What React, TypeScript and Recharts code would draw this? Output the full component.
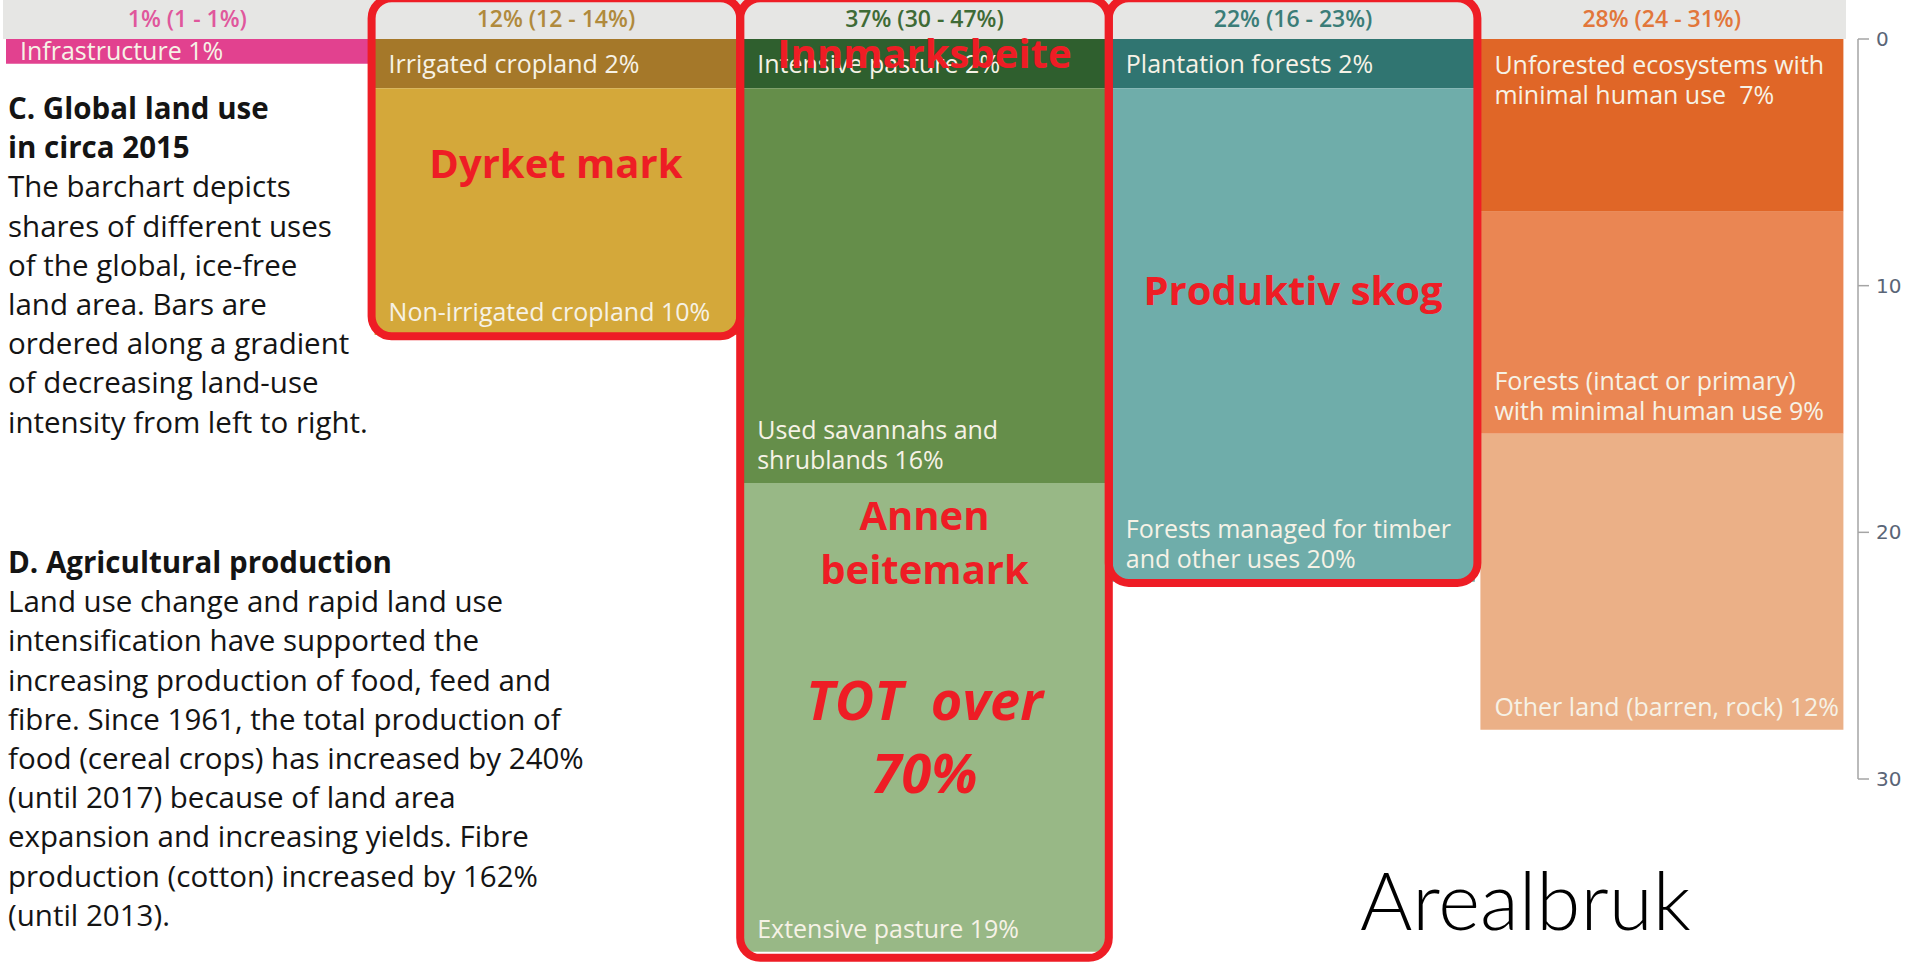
import React from 'react';
import { BarChart, Bar, XAxis, YAxis, Cell, LabelList, ReferenceArea, ReferenceDot } from 'recharts';

const categories = ['Infrastructure', 'Cropland', 'Pasture', 'Forestry', 'Unused'];
const headerLabels = ['1% (1 - 1%)', '12% (12 - 14%)', '37% (30 - 47%)', '22% (16 - 23%)', '28% (24 - 31%)'];
const headerColors = ['#e0579c', '#b08a3c', '#3f6b36', '#3b7d78', '#e2763a'];

// segments per column, from the top down
const level1Values = [1, 2, 2, 2, 7];
const level1Labels = ['Infrastructure 1%', 'Irrigated cropland 2%', 'Intensive pasture 2%', 'Plantation forests 2%', 'Unforested ecosystems with\nminimal human use  7%'];
const level1Place = ['center', 'center', 'center', 'center', 'top'];
const level1Colors = ['#e2418f', '#a57829', '#2f5f2e', '#307571', '#e06627'];

const level2Values = [null, 10, 16, 20, 9];
const level2Labels = ['', 'Non-irrigated cropland 10%', 'Used savannahs and\nshrublands 16%', 'Forests managed for timber\nand other uses 20%', 'Forests (intact or primary)\nwith minimal human use 9%'];
const level2Place = ['bottom', 'bottom', 'bottom', 'bottom', 'bottom'];
const level2Colors = ['#ffffff', '#d4a83a', '#658e4a', '#6fadaa', '#ea8653'];

const level3Values = [null, null, 19, null, 12];
const level3Labels = ['', '', 'Extensive pasture 19%', '', 'Other land (barren, rock) 12%'];
const level3Place = ['bottom', 'bottom', 'bottom', 'bottom', 'bottom'];
const level3Colors = ['#ffffff', '#ffffff', '#98b886', '#ffffff', '#ebb087'];

const yTicks = [0, 10, 20, 30];

// red hand-drawn annotations
const boxCategories = ['Cropland', 'Pasture', 'Forestry'];
const boxBottoms = [12.05, 37.25, 22.05];
const noteCategories = ['Cropland', 'Pasture', 'Forestry', 'Pasture', 'Pasture'];
const noteY = [5.05, 0.6, 10.2, 20.4, 28.3];
const noteTexts = ['Dyrket mark', 'Innmarksbeite', 'Produktiv skog', 'Annen\nbeitemark', 'TOT  over\n70%'];
const noteSizes = [40, 40, 40, 40, 54];
const noteItalic = [false, false, false, false, true];

const W = 1914;
const H = 965;
const MARGIN = { top: 2, right: 0, bottom: 1, left: 3 };
const X_AXIS_H = 37;
const Y_AXIS_W = 68;
const Y_MAX = 37.5;
const PLOT_H = H - MARGIN.top - MARGIN.bottom - X_AXIS_H;
const PX_PER_UNIT = PLOT_H / Y_MAX;

const data = categories.map((name, i) => ({
  name,
  l1: level1Values[i],
  l2: level2Values[i],
  l3: level3Values[i],
  t1: level1Labels[i],
  t2: level2Labels[i],
  t3: level3Labels[i],
}));

const FONT = '"Open Sans", sans-serif';
const RED = '#ee1d25';

const makeSegmentLabel = (labels: string[], place: string[]) => (props: any) => {
  const vb = props.viewBox || props;
  const { x, y, width, height } = vb;
  const text = props.value;
  const index = labels.indexOf(text);
  if (!text || index < 0 || width == null) return null;
  const top = Math.min(y, y + height);
  const bottom = Math.max(y, y + height);
  const lines = String(text).split('\n');
  const lh = 30;
  let first;
  if (place[index] === 'top') first = top + 26;
  else if (place[index] === 'center') first = (top + bottom) / 2 - ((lines.length - 1) * lh) / 2;
  else first = bottom - 23 - (lines.length - 1) * lh;
  const fs = 25;
  return (
    <text fontFamily={FONT} fontSize={fs} fill="#f6f2e6" style={{ whiteSpace: 'pre' }}>
      {lines.map((l, i) => (
        <tspan key={i} x={x + 14} y={first + i * lh + fs * 0.36}>
          {l}
        </tspan>
      ))}
    </text>
  );
};

const HeaderTick = (props: any) => {
  const { x, y, payload } = props;
  const i = categories.indexOf(payload.value);
  return (
    <text x={x} y={y - 21} textAnchor="middle" dominantBaseline="central" fontFamily={FONT} fontWeight={600} fontSize={23} fill={headerColors[i]}>
      {headerLabels[i]}
    </text>
  );
};

const AxisTick = (props: any) => {
  const { x, y, payload } = props;
  const ax = x + 12;
  const isFirst = payload.value === yTicks[0];
  const span = (yTicks[yTicks.length - 1] - yTicks[0]) * PX_PER_UNIT;
  return (
    <g>
      {isFirst && <line x1={ax} y1={y} x2={ax} y2={y + span} stroke="#a5a5a5" strokeWidth={1.5} />}
      <line x1={ax} y1={y} x2={ax + 11} y2={y} stroke="#a5a5a5" strokeWidth={1.5} />
      <text x={ax + 18} y={y} dominantBaseline="central" fontFamily='"DejaVu Sans", sans-serif' fontSize={20} fill="#5a6577">
        {payload.value}
      </text>
    </g>
  );
};

const RedBox = (props: any) => {
  const { x, y, width, height } = props;
  return <rect x={x} y={y} width={width} height={height} rx={20} ry={20} fill="none" stroke={RED} strokeWidth={8} />;
};

const makeNote = (i: number) => (props: any) => {
  const { cx, cy } = props;
  const lines = noteTexts[i].split('\n');
  const fs = noteSizes[i];
  const lh = fs * 1.35;
  const first = cy - ((lines.length - 1) * lh) / 2;
  return (
    <text
      fontFamily={FONT}
      fontWeight={700}
      fontStyle={noteItalic[i] ? 'italic' : 'normal'}
      fontSize={fs}
      fill={RED}
      textAnchor="middle"
      style={{ whiteSpace: 'pre' }}
    >
      {lines.map((l, k) => (
        <tspan key={k} x={cx} y={first + k * lh + fs * 0.36}>
          {l}
        </tspan>
      ))}
    </text>
  );
};

const bodyText: React.CSSProperties = {
  position: 'absolute',
  left: 8,
  fontFamily: FONT,
  fontSize: 29.5,
  lineHeight: '39.2px',
  color: '#141414',
  whiteSpace: 'nowrap',
};

export default function App() {
  return (
    <div style={{ position: 'absolute', left: 0, top: 0, width: W, height: H, overflow: 'hidden', background: '#fff' }}>
      <BarChart width={W} height={H} data={data} margin={MARGIN} barCategoryGap={3}>
        <XAxis
          dataKey="name"
          orientation="top"
          height={X_AXIS_H}
          axisLine={false}
          tickLine={false}
          tickSize={0}
          tickMargin={0}
          interval={0}
          tick={<HeaderTick />}
        />
        <YAxis
          orientation="right"
          reversed
          domain={[0, Y_MAX]}
          ticks={yTicks}
          width={Y_AXIS_W}
          axisLine={false}
          tickLine={false}
          tickSize={0}
          tickMargin={0}
          tick={<AxisTick />}
        />
        <ReferenceArea
          x1={categories[0]}
          x2={categories[categories.length - 1]}
          y1={-1.6}
          y2={0}
          fill="#e6e6e4"
          fillOpacity={1}
          stroke="none"
          ifOverflow="visible"
        />
        <Bar dataKey="l1" stackId="a" isAnimationActive={false}>
          {categories.map((c, i) => (
            <Cell key={c} fill={level1Colors[i]} />
          ))}
          <LabelList dataKey="t1" content={makeSegmentLabel(level1Labels, level1Place)} />
        </Bar>
        <Bar dataKey="l2" stackId="a" isAnimationActive={false}>
          {categories.map((c, i) => (
            <Cell key={c} fill={level2Colors[i]} />
          ))}
          <LabelList dataKey="t2" content={makeSegmentLabel(level2Labels, level2Place)} />
        </Bar>
        <Bar dataKey="l3" stackId="a" isAnimationActive={false}>
          {categories.map((c, i) => (
            <Cell key={c} fill={level3Colors[i]} />
          ))}
          <LabelList dataKey="t3" content={makeSegmentLabel(level3Labels, level3Place)} />
        </Bar>
        {boxCategories.map((c, i) => (
          <ReferenceArea
            key={c}
            x1={c}
            x2={c}
            y1={-1.65}
            y2={boxBottoms[i]}
            ifOverflow="visible"
            shape={<RedBox />}
            zIndex={2500}
          />
        ))}
        {noteTexts.map((t, i) => (
          <ReferenceDot
            key={t}
            x={noteCategories[i]}
            y={noteY[i]}
            r={1}
            ifOverflow="visible"
            shape={makeNote(i)}
            zIndex={2600}
          />
        ))}
      </BarChart>

      <div style={{ ...bodyText, top: 88 }}>
        <b>C. Global land use</b>
        <br />
        <b>in circa 2015</b>
        <br />
        The barchart depicts
        <br />
        shares of different uses
        <br />
        of the global, ice-free
        <br />
        land area. Bars are
        <br />
        ordered along a gradient
        <br />
        of decreasing land-use
        <br />
        intensity from left to right.
      </div>

      <div style={{ ...bodyText, top: 542 }}>
        <b>D. Agricultural production</b>
        <br />
        Land use change and rapid land use
        <br />
        intensification have supported the
        <br />
        increasing production of food, feed and
        <br />
        fibre. Since 1961, the total production of
        <br />
        food (cereal crops) has increased by 240%
        <br />
        (until 2017) because of land area
        <br />
        expansion and increasing yields. Fibre
        <br />
        production (cotton) increased by 162%
        <br />
        (until 2013).
      </div>

      <div
        style={{
          position: 'absolute',
          left: 1360,
          top: 859,
          fontFamily: 'Lato, sans-serif',
          fontWeight: 300,
          fontSize: 80,
          lineHeight: '80px',
          color: '#000',
          whiteSpace: 'nowrap',
        }}
      >
        Arealbruk
      </div>
    </div>
  );
}
